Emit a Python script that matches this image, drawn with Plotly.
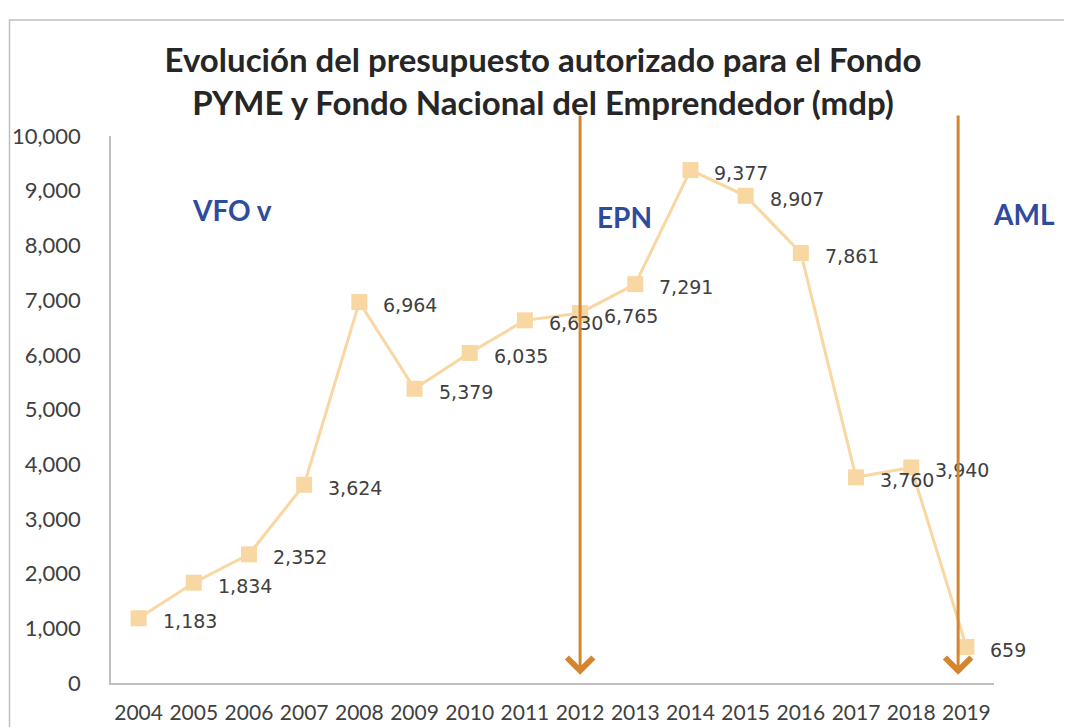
import plotly.graph_objects as go

years = ["2004", "2005", "2006", "2007", "2008", "2009", "2010", "2011",
         "2012", "2013", "2014", "2015", "2016", "2017", "2018", "2019"]
budget = [1183, 1834, 2352, 3624, 6964, 5379, 6035, 6630,
          6765, 7291, 9377, 8907, 7861, 3760, 3940, 659]
y_ticks = [0, 1000, 2000, 3000, 4000, 5000, 6000, 7000, 8000, 9000, 10000]

# period markers (arrow position on the category index scale) and labels
arrow_pos = [8.0, 14.85]
period_labels = ["VFO v", "EPN"]
period_label_x = [1.69, 8.8]
period_label_y = [8650, 8520]
last_label = "AML"

line_color = "#F8D7A3"
arrow_color = "#D5852F"
label_blue = "#2E4C9E"
text_gray = "#404040"

# the page body adds an 8px offset; size the figure so it fits the window
W, H = 1064, 719
L, T = 103, 128
PW, PH = 883, 547

fig = go.Figure()
fig.add_trace(go.Scatter(
    x=years, y=budget, mode="lines+markers",
    line=dict(color=line_color, width=3),
    marker=dict(symbol="square", size=16, color=line_color),
    hoverinfo="x+y", showlegend=False,
))

annotations = []
for i, v in enumerate(budget):
    annotations.append(dict(
        x=i, y=v, xref="x", yref="y", text=f"{v:,}", showarrow=False,
        xanchor="left", yanchor="middle", xshift=22, yshift=-3,
        font=dict(family="DejaVu Sans", size=19, color=text_gray),
    ))

for pos in arrow_pos:
    annotations.append(dict(
        x=pos, y=150, ax=pos, ay=10400, xref="x", yref="y", axref="x", ayref="y",
        text="", showarrow=True, arrowhead=4, arrowsize=1.7, arrowwidth=3,
        arrowcolor=arrow_color, standoff=0,
    ))

for t, px, py in zip(period_labels, period_label_x, period_label_y):
    annotations.append(dict(
        x=px, y=py, xref="x", yref="y", text=f"<b>{t}</b>", showarrow=False,
        xanchor="center", yanchor="middle",
        font=dict(family="Lato", size=28, color=label_blue),
    ))
annotations.append(dict(
    x=1.034, y=0.857, xref="paper", yref="paper", text=f"<b>{last_label}</b>",
    showarrow=False, xanchor="center", yanchor="middle",
    font=dict(family="Lato", size=28, color=label_blue),
))

fig.update_layout(
    width=W, height=H,
    paper_bgcolor="white", plot_bgcolor="white",
    margin=dict(l=L, r=W - L - PW, t=T, b=H - T - PH),
    title=dict(
        text="<b>Evolución del presupuesto autorizado para el Fondo<br>PYME y Fondo Nacional del Emprendedor (mdp)</b>",
        x=(L + (543 - 111)) / W, xanchor="center", y=1 - 64 / H, yanchor="top",
        font=dict(family="Lato", size=33, color="#262626"),
    ),
    xaxis=dict(
        type="category", categoryorder="array", categoryarray=years,
        range=[-0.5, 15.5], showgrid=False, zeroline=False, automargin=False,
        showline=True, linecolor="#BFBFBF", linewidth=1.5,
        ticks="", ticklabelstandoff=10,
        tickfont=dict(family="Lato", size=21, color=text_gray),
    ),
    yaxis=dict(
        range=[0, 10000], tickvals=y_ticks, tickformat=",d",
        showgrid=False, zeroline=False, automargin=False,
        showline=True, linecolor="#BFBFBF", linewidth=1.5,
        ticks="", ticklabelstandoff=24,
        tickfont=dict(family="Lato", size=22, color=text_gray),
    ),
    annotations=annotations,
    shapes=[dict(type="rect", xref="paper", yref="paper",
                 x0=-(L - 1.5) / PW, x1=1.5, y0=-0.5, y1=1.212,
                 line=dict(color="#BFBFBF", width=1.5), fillcolor="rgba(0,0,0,0)",
                 layer="below")],
)

fig.write_html("out.html")
